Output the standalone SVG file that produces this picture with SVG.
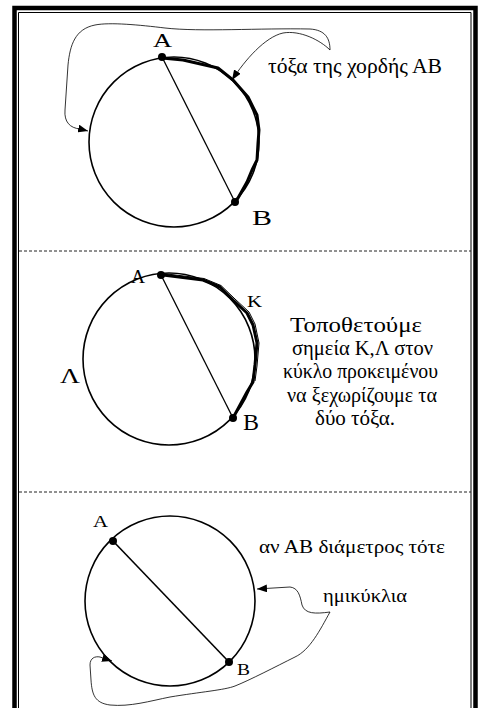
<svg xmlns="http://www.w3.org/2000/svg" width="483" height="708" viewBox="0 0 483 708">
<style>
.c{fill:none;stroke:#000;stroke-width:1.6}
.ch{fill:none;stroke:#000;stroke-width:1.3}
.arc{fill:none;stroke:#000;stroke-width:3;stroke-linejoin:round}
.arc2{fill:none;stroke:#000;stroke-width:1}
.dot{fill:#000}
.t{font-family:"Liberation Serif","DejaVu Serif",serif;fill:#000}
.con{fill:none;stroke:#000;stroke-width:0.8}
.dash{stroke:#222;stroke-width:1;stroke-dasharray:3,2}
</style>
<defs>
<marker id="ah" viewBox="0 0 10 8" refX="10" refY="4" markerWidth="10" markerHeight="8" markerUnits="userSpaceOnUse" orient="auto">
<path d="M0,0 L10,4 L0,8 Z" fill="#000"/>
</marker>
</defs>
<rect width="483" height="708" fill="#fff"/>
<g id="frame">
<path d="M14.5,712 V8 H475.5 V712" fill="none" stroke="#000" stroke-width="4.5"/>
<path d="M18.5,712 V12.5 H471 V712" fill="none" stroke="#000" stroke-width="1"/>
<line class="dash" x1="19" y1="251" x2="471" y2="251"/>
<line class="dash" x1="19" y1="492" x2="471" y2="492"/>
</g>
<g id="section1">
<circle class="c" cx="174" cy="142" r="85"/>
<line class="ch" x1="162" y1="57" x2="235" y2="202"/>
<polyline class="arc" points="162,58 183,60 218,68 233,80 248,97 257,115 259,130 258,143 257,160 252,170 247,182 238,198 235,202"/>
<circle class="dot" cx="162" cy="57" r="4"/>
<circle class="dot" cx="235" cy="202" r="4"/>
<text class="t" x="153" y="47" font-size="18" textLength="19" lengthAdjust="spacingAndGlyphs">A</text>
<text class="t" x="252" y="225" font-size="22" textLength="20" lengthAdjust="spacingAndGlyphs">B</text>
<text class="t" x="268" y="73" font-size="21" textLength="174" lengthAdjust="spacingAndGlyphs">τόξα της χορδής ΑΒ</text>
</g>
<g id="section2">
<circle class="c" cx="169" cy="359" r="86"/>
<line class="ch" x1="161" y1="275" x2="233" y2="418"/>
<polyline class="arc" points="163,275 203,280 220,287 233,300 247,313 253,325 257,343 255,365 253,382 247,392 240,405 233,418"/>
<polyline class="arc2" points="163,273.5 204,278.5 221,285.5 235,299 249,312 255,324 259,343 257,366 255,381"/>
<circle class="dot" cx="161" cy="275" r="4"/>
<circle class="dot" cx="233" cy="418" r="4"/>
<text class="t" x="131" y="283" font-size="18" textLength="14" lengthAdjust="spacingAndGlyphs">A</text>
<text class="t" x="247" y="307" font-size="17" textLength="15" lengthAdjust="spacingAndGlyphs">K</text>
<text class="t" x="60" y="383" font-size="20" textLength="20" lengthAdjust="spacingAndGlyphs">Λ</text>
<text class="t" x="243" y="430" font-size="24" textLength="16" lengthAdjust="spacingAndGlyphs">B</text>
<g class="t" font-size="22">
<text x="290" y="332" textLength="132" lengthAdjust="spacingAndGlyphs">Τοποθετούμε</text>
<text x="292" y="355" textLength="141" lengthAdjust="spacingAndGlyphs">σημεία Κ,Λ στον</text>
<text x="283" y="378" textLength="155" lengthAdjust="spacingAndGlyphs">κύκλο προκειμένου</text>
<text x="287" y="402" textLength="150" lengthAdjust="spacingAndGlyphs">να ξεχωρίζουμε τα</text>
<text x="315" y="425" textLength="80" lengthAdjust="spacingAndGlyphs">δύο τόξα.</text>
</g>
</g>
<g id="section3">
<circle class="c" cx="170" cy="601" r="85"/>
<line class="c" x1="113" y1="541" x2="229" y2="662"/>
<circle class="dot" cx="113" cy="541" r="4"/>
<circle class="dot" cx="229" cy="662" r="4"/>
<text class="t" x="93" y="527" font-size="16" textLength="15" lengthAdjust="spacingAndGlyphs">A</text>
<text class="t" x="237" y="675" font-size="17" textLength="13" lengthAdjust="spacingAndGlyphs">B</text>
<text class="t" x="259" y="553" font-size="18" textLength="186" lengthAdjust="spacingAndGlyphs">αν ΑΒ διάμετρος τότε</text>
<text class="t" x="323" y="602" font-size="18" textLength="84" lengthAdjust="spacingAndGlyphs">ημικύκλια</text>
</g>
<g id="connectors">
<path class="con" d="M330,50 C330,38 325,30 310,29 C260,28 200,32 165,28 C140,25 110,22 95,25 C75,29 70,45 68,65 L65,110 C64,122 70,128 80,129 L88,131" marker-end="url(#ah)"/>
<path class="con" d="M330,50 C320,40 300,30 283,33 C265,37 245,60 232,80" marker-end="url(#ah)"/>
<path class="con" d="M330,612 C315,614 305,614 302,605 C300,595 298,588 290,587 L257,589" marker-end="url(#ah)"/>
<path class="con" d="M330,612 C320,630 310,650 295,657 C275,667 250,680 235,686 C225,690 200,692 170,697 C150,701 130,707 110,705 C95,703 92,695 91,680 L90,665 C90,658 95,656 100,657 L112,661" marker-end="url(#ah)"/>
</g>
</svg>
